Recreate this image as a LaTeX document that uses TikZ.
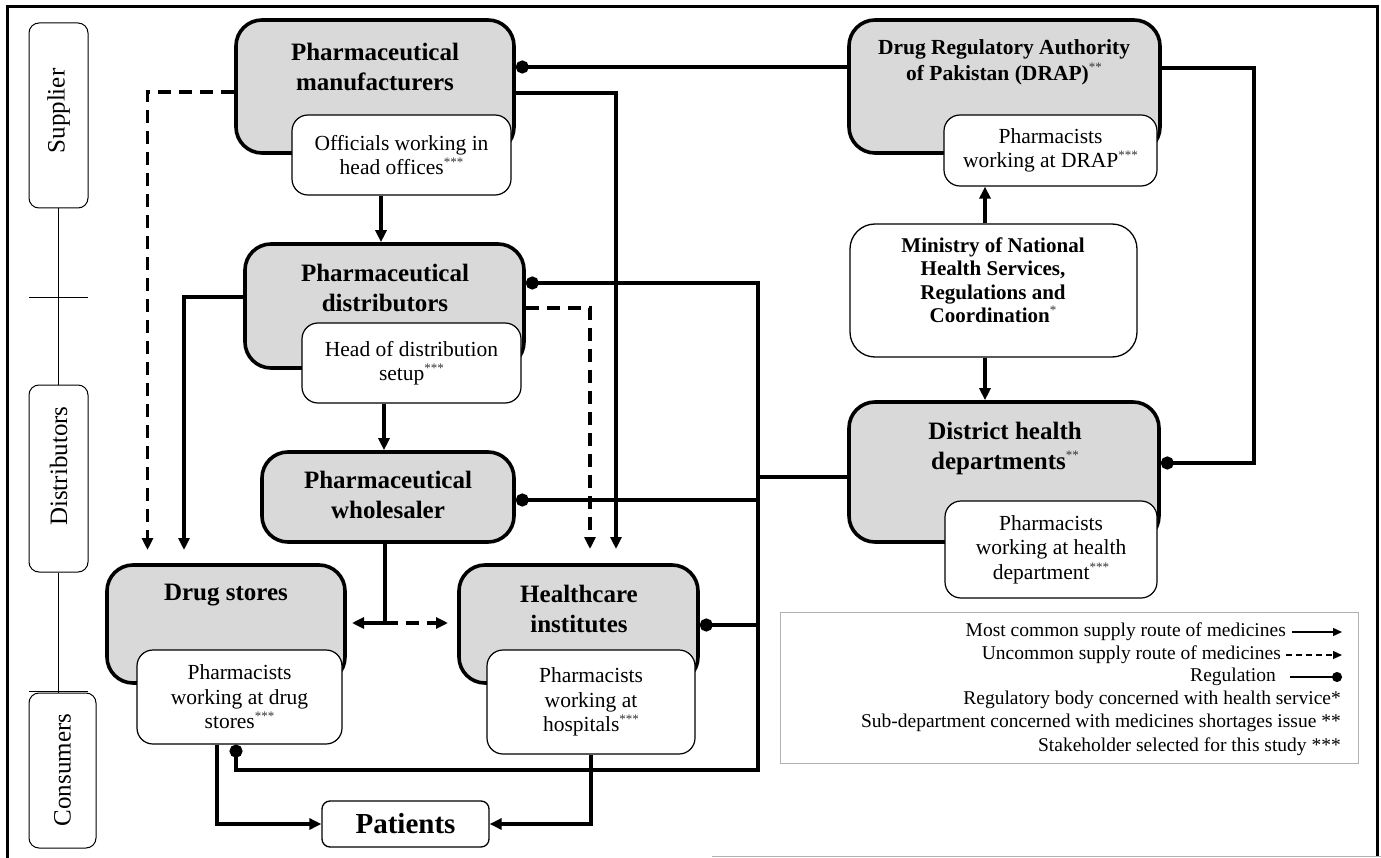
\documentclass[tikz,border=0pt]{standalone}
\usepackage{fontspec}
\setmainfont{Liberation Serif}
\usetikzlibrary{arrows.meta}
\newcommand{\ttlfnt}{\fontsize{25}{30}\selectfont\bfseries}
\newcommand{\drapfnt}{\fontsize{21.5}{26}\selectfont\bfseries}
\newcommand{\minfnt}{\fontsize{21}{23.5}\selectfont\bfseries}
\newcommand{\subfnt}{\fontsize{21.5}{24.5}\selectfont}
\newcommand{\legfnt}{\fontsize{19.5}{23}\selectfont}
\newcommand{\sidefnt}{\fontsize{25}{30}\selectfont}
\newcommand{\patfnt}{\fontsize{29}{34}\selectfont\bfseries}
\newcommand{\supst}[1]{\raisebox{0.38em}{\fontsize{13}{13}\selectfont\mdseries\color{black!80}#1}}
\begin{document}
\begin{tikzpicture}[x=1pt,y=-1pt,
 mainbox/.style={draw, line width=3.6pt, fill=gray!30, rounded corners=26pt, inner sep=0pt},
 subbox/.style={draw, line width=1.2pt, fill=white, rounded corners=16pt, align=center, inner sep=0pt, font=\subfnt},
 sidebox/.style={draw, line width=1pt, rounded corners=10pt, inner sep=0pt, minimum width=59pt},
 sidetxt/.style={rotate=90, inner sep=0pt, font=\sidefnt},
 ttl/.style={align=center, inner sep=0pt, font=\ttlfnt},
 supl/.style={line width=3.4pt, -{Triangle[length=12pt,width=11pt]}},
 dshl/.style={supl, dash pattern=on 13pt off 8pt},
 regl/.style={line width=3.4pt},
 thinl/.style={line width=0.8pt},
 legtxt/.style={anchor=east, inner sep=0pt, font=\legfnt},
]
\useasboundingbox (0,0) rectangle (1381,858);
% outer frame
\draw[line width=3pt] (1377,856) -- (1377,7) -- (7,7) -- (7,858);
\draw[gray!60, line width=1pt] (712,856) -- (1381,856);

% side bar
\node[sidebox, minimum height=185pt] (sideS) at (58.5,115.5) {};
\node[sidetxt] (sideSt) at (58.5,111) {Supplier};
\node[sidebox, minimum height=187pt] (sideD) at (58.5,478.5) {};
\node[sidetxt] (sideDt) at (58.5,466) {Distributors};
\node[sidebox, minimum width=67pt, minimum height=155pt] (sideC) at (62.5,770.5) {};
\node[sidetxt] (sideCt) at (62.5,770) {Consumers};
\draw[thinl] (sideS.south) -- (sideD.north);
\draw[thinl] (sideD.south) -- (sideD.south |- sideC.north);
\coordinate (tk1a) at (29,297); \coordinate (tk1b) at (88,297);
\coordinate (tk2a) at (29,691); \coordinate (tk2b) at (88,691);
\draw[thinl] (tk1a) -- (tk1b);
\draw[thinl] (tk2a) -- (tk2b);

% manufacturers
\node[mainbox, minimum width=278pt, minimum height=133pt] (man) at (375,86.5) {};
\node[ttl] (manT) at (375,67) {Pharmaceutical\\manufacturers};
\node[subbox, minimum width=219pt, minimum height=80pt] (manS) at (401.5,155) {Officials working in\\head offices\supst{***}};

% distributors
\node[mainbox, minimum width=279pt, minimum height=124pt] (dis) at (384.5,306) {};
\node[ttl] (disT) at (385,288) {Pharmaceutical\\distributors};
\node[subbox, minimum width=219pt, minimum height=80pt] (disS) at (411.5,363) {Head of distribution\\setup\supst{***}};

% wholesaler
\node[mainbox, minimum width=252pt, minimum height=90pt] (who) at (388,497) {};
\node[ttl] (whoT) at (388,495) {Pharmaceutical\\wholesaler};

% drug stores
\node[mainbox, minimum width=238pt, minimum height=118pt] (ds) at (226,624) {};
\node[ttl] (dsT) at (226,595) {Drug stores};
\node[subbox, minimum width=205pt, minimum height=94pt] (dsS) at (239.5,697) {Pharmacists\\working at drug\\stores\supst{***}};

% healthcare institutes
\node[mainbox, minimum width=239pt, minimum height=118pt] (hc) at (578.5,624) {};
\node[ttl] (hcT) at (579,609) {Healthcare\\institutes};
\node[subbox, minimum width=208pt, minimum height=104pt] (hcS) at (591,702) {Pharmacists\\working at\\hospitals\supst{***}};

% patients
\node[draw, line width=1.3pt, rounded corners=8pt, minimum width=167pt, minimum height=46pt, inner sep=0pt, font=\patfnt] (pat) at (405.5,824) {Patients};

% DRAP
\node[mainbox, minimum width=311pt, minimum height=133pt] (drap) at (1004.5,86.5) {};
\node[ttl, font=\drapfnt] (drapT) at (1004,62) {Drug Regulatory Authority\\of Pakistan (DRAP)\supst{**}};
\node[subbox, minimum width=213pt, minimum height=71pt] (drapS) at (1050.5,150.5) {Pharmacists\\working at DRAP\supst{***}};

% Ministry
\node[draw, line width=1.3pt, fill=white, rounded corners=25pt, minimum width=287pt, minimum height=133pt, inner sep=0pt] (min) at (993.5,290.5) {};
\node[ttl, font=\minfnt] (minT) at (993,280) {Ministry of National\\Health Services,\\Regulations and\\Coordination\supst{*}};

% District health departments
\node[mainbox, minimum width=310pt, minimum height=140pt] (dhd) at (1004,472) {};
\node[ttl] (dhdT) at (1005,448) {District health\\departments\supst{**}};
\node[subbox, minimum width=212pt, minimum height=97pt] (dhdS) at (1051,549.5) {Pharmacists\\working at health\\department\supst{***}};

% named coordinates
\coordinate (dsA1) at (147.5,550);
\coordinate (dsA2) at (184,550);
\coordinate (hcA1) at (590,549);
\coordinate (hcA2) at (616,549);
\coordinate (busT) at (758,283);
\coordinate (busB) at (758,770);
\coordinate (split) at (385,623);
\coordinate (dsE) at (352,623);
\coordinate (hcW) at (448,623);
\coordinate (drapR) at (1254,463);

% supply routes
\draw[dshl] (man.west |- 0,92) -| (dsA1);
\draw[supl] (man.east |- 0,93) -| (hcA2);
\draw[supl] (manS.south -| 381,0) -- (dis.north -| 381,0);
\draw[supl] (dis.west |- 0,297) -| (dsA2);
\draw[dshl] (dis.east |- 0,308) -| (hcA1);
\draw[supl] (disS.south -| 384,0) -- (who.north -| 384,0);
\draw[line width=3.4pt] (who.south -| split) -- (split);
\draw[supl] (split) -- (dsE);
\draw[dshl] (split) -- (hcW);
\draw[supl] (dsS.south -| 217,0) |- (pat.west);
\draw[supl] (hcS.south -| 591,0) |- (pat.east);
\draw[supl] (min.north -| 985,0) -- (drapS.south -| 985,0);
\draw[supl] (min.south -| 985,0) -- (dhd.north -| 985,0);

% regulation
\draw[regl, {Circle[length=13pt]}-] (man.east |- 0,67) -- (drap.west |- 0,67);
\draw[regl, {Circle[length=13pt]}-{Circle[length=13pt]}] (dis.east |- busT) -| (busB) -| (dsS.south -| 236,0);
\draw[regl, {Circle[length=13pt]}-] (who.east |- 0,500) -- (busT |- 0,500);
\draw[regl, {Circle[length=13pt]}-] (hc.east |- 0,625) -- (busT |- 0,625);
\draw[regl] (dhd.west |- 0,477) -- (busT |- 0,477);
\draw[regl, -{Circle[length=13pt]}] (drap.east |- 0,68) -| (drapR) -- (dhd.east |- drapR);

% legend
\node[draw=gray!60, line width=0.8pt, minimum width=578pt, minimum height=151pt, inner sep=0pt] (leg) at (1069,687.5) {};
\node[legtxt] (lg1) at (1286,632) {Most common supply route of medicines};
\node[legtxt] (lg2) at (1281,655) {Uncommon supply route of medicines};
\node[legtxt] (lg3) at (1276,677) {Regulation};
\node[legtxt] (lg4) at (1341,700) {Regulatory body concerned with health service*};
\node[legtxt] (lg5) at (1341,723) {Sub-department concerned with medicines shortages issue **};
\node[legtxt] (lg6) at (1341,747) {Stakeholder selected for this study ***};
\coordinate (la1) at (1292,632); \coordinate (lb1) at (1342,632);
\coordinate (la2) at (1286,655); \coordinate (lb2) at (1342,655);
\coordinate (la3) at (1290,677); \coordinate (lb3) at (1342,677);
\draw[line width=1.3pt, -{Triangle[length=9pt,width=8pt]}] (la1) -- (lb1);
\draw[line width=1.3pt, dash pattern=on 6pt off 4pt, -{Triangle[length=9pt,width=8pt]}] (la2) -- (lb2);
\draw[line width=1.3pt, -{Circle[length=10pt]}] (la3) -- (lb3);
\end{tikzpicture}
\end{document}
